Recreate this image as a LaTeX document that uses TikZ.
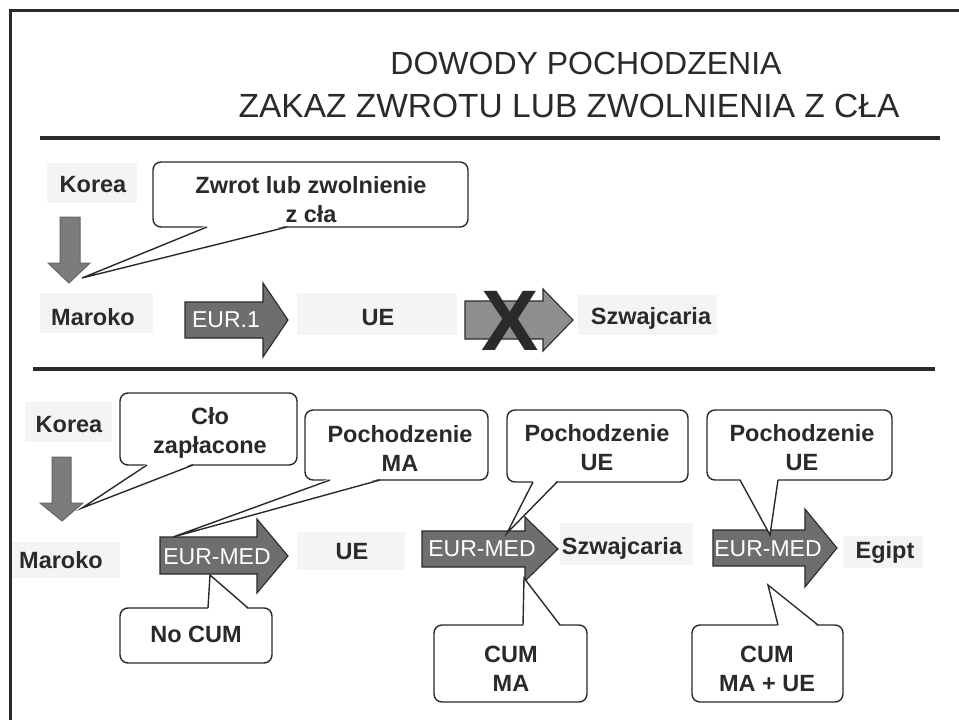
\documentclass[tikz,border=0pt]{standalone}
\usepackage{fontspec}
\setmainfont{Liberation Sans}
\usetikzlibrary{calc}
\definecolor{ink}{HTML}{2A2A2A}
\definecolor{eurfill}{HTML}{6E6E6E}
\definecolor{xfill}{HTML}{8E8E8E}
\definecolor{downfill}{HTML}{7C7C7C}
\definecolor{faintbg}{HTML}{F4F4F4}
\begin{document}
\begin{tikzpicture}[x=1pt,y=-1pt,
  lbl/.style={font=\fontsize{23.5}{29}\selectfont\bfseries, inner sep=0pt, align=center, text=ink},
  ttl/.style={inner sep=0pt, text=ink},
  arrtext/.style={font=\fontsize{23}{28}\selectfont, inner sep=0pt, text=white},
  faint/.style={fill=faintbg, draw=none},
  callbox/.style={draw=ink, line width=1.4pt, rounded corners=8pt, fill=white},
  cline/.style={draw=ink, line width=1.4pt, line join=miter},
  blockarrow/.style={draw=ink, line width=1.1pt, fill=eurfill, line join=miter},
  xarrow/.style={draw=ink, line width=1.1pt, fill=xfill, line join=miter},
  downarrow/.style={draw=black!60, line width=1pt, fill=downfill, line join=miter},
  rulebar/.style={draw=ink, line width=4pt}
]
\useasboundingbox (0,0) rectangle (959,720);
\fill[white] (0,0) rectangle (959,720);

% frame
\draw[ink, line width=3pt] (10,720) -- (10,10.5) -- (959,10.5);

% title
\node[ttl, font=\fontsize{32}{38}\selectfont] (t1) at (586,63) {DOWODY POCHODZENIA};
\node[ttl, font=\fontsize{33.5}{40}\selectfont] (t2) at (569,106) {ZAKAZ ZWROTU LUB ZWOLNIENIA Z CŁA};

% rules
\coordinate (r1a) at (40,138); \coordinate (r1b) at (940,138);
\coordinate (r2a) at (33,369); \coordinate (r2b) at (935,369);
\draw[rulebar] (r1a) -- (r1b);
\draw[rulebar] (r2a) -- (r2b);

% ---------- faint backgrounds ----------
\fill[faint] (47,163) rectangle (137,203);
\fill[faint] (40,293) rectangle (153,333);
\fill[faint] (297,293) rectangle (457,335);
\fill[faint] (578,295) rectangle (717,335);
\fill[faint] (25,402) rectangle (112,442);
\fill[faint] (12,542) rectangle (120,578);
\fill[faint] (297,532) rectangle (405,570);
\fill[faint] (560,523) rectangle (693,565);
\fill[faint] (843,536) rectangle (923,568);

% ---------- TOP SECTION ----------
\node[lbl] (korea1) at (93,185) {Korea};
\node[lbl] (maroko1) at (93,317) {Maroko};
\node[lbl] (ue1) at (378,318) {UE};
\node[lbl] (szw1) at (651,318) {Szwajcaria};

% down arrow Korea -> Maroko
\draw[downarrow] (60,217) -- (80,217) -- (80,263) -- (90,263) -- (69,283) -- (48,263) -- (60,263) -- cycle;

% EUR.1 arrow
\draw[blockarrow] (185,302) -- (263,302) -- (263,283) -- (288,320) -- (263,357) -- (263,338) -- (185,338) -- cycle;
\node[arrtext] (eur1) at (226,320) {EUR.1};

% crossed arrow
\draw[xarrow] (465,301) -- (543,301) -- (543,289) -- (573,320) -- (543,351) -- (543,339) -- (465,339) -- cycle;
\node[font=\fontsize{86}{90}\selectfont\bfseries, inner sep=0pt, text=ink] (xmark) at (510,321) {X};

% callout: Zwrot lub zwolnienie z cla
\node[callbox, minimum width=315pt, minimum height=65pt, inner sep=0pt] (c1) at (310.5,194.5) {};
\coordinate (c1a) at (207,227); \coordinate (c1b) at (287,227); \coordinate (c1tip) at (82,278);
\fill[white] ($(c1a)+(0,-1.6)$) -- (c1tip) -- ($(c1b)+(0,-1.6)$) -- cycle;
\draw[cline] (c1a) -- (c1tip) -- (c1b);
\node[lbl] (c1t) at (311,200) {Zwrot lub zwolnienie\\z cła};

% ---------- BOTTOM SECTION ----------
\node[lbl] (korea2) at (69,425) {Korea};
\node[lbl] (maroko2) at (61,560) {Maroko};
\node[lbl] (ue2) at (352,552) {UE};
\node[lbl] (szw2) at (622,548) {Szwajcaria};
\node[lbl] (egipt) at (885,552) {Egipt};

% down arrow
\draw[downarrow] (52,457) -- (71,457) -- (71,503) -- (83,503) -- (62,521) -- (40,503) -- (52,503) -- cycle;

% EUR-MED arrows
\draw[blockarrow] (160,537) -- (257,537) -- (257,519) -- (288,556) -- (257,593) -- (257,574) -- (160,574) -- cycle;
\node[arrtext] (em1) at (217,557) {EUR-MED};
\draw[blockarrow] (422,531) -- (525,531) -- (525,517) -- (558,549) -- (525,581) -- (525,567) -- (422,567) -- cycle;
\node[arrtext] (em2) at (482,549) {EUR-MED};
\draw[blockarrow] (713,530) -- (805,530) -- (805,509) -- (837,548) -- (805,587) -- (805,566) -- (713,566) -- cycle;
\node[arrtext] (em3) at (768,549) {EUR-MED};

% callout: Clo zaplacone
\node[callbox, minimum width=177pt, minimum height=72pt, inner sep=0pt] (c2) at (208.5,429) {};
\coordinate (c2a) at (147,465); \coordinate (c2b) at (193,465); \coordinate (c2tip) at (82,508);
\fill[white] ($(c2a)+(0,-1.6)$) -- (c2tip) -- ($(c2b)+(0,-1.6)$) -- cycle;
\draw[cline] (c2a) -- (c2tip) -- (c2b);
\node[lbl] (c2t) at (210,432.5) {Cło\\zapłacone};

% callout: Pochodzenie MA
\node[callbox, minimum width=183pt, minimum height=70pt, inner sep=0pt] (c3) at (396.5,445) {};
\coordinate (c3a) at (330,480); \coordinate (c3b) at (380,480); \coordinate (c3tip) at (173,537);
\fill[white] ($(c3a)+(0,-1.6)$) -- (c3tip) -- ($(c3b)+(0,-1.6)$) -- cycle;
\draw[cline] (c3a) -- (c3tip) -- (c3b);
\node[lbl] (c3t) at (400,448) {Pochodzenie\\MA};

% callout: No CUM
\node[callbox, minimum width=152pt, minimum height=55pt, inner sep=0pt] (c4) at (196,635.5) {};
\coordinate (c4a) at (208,608); \coordinate (c4b) at (248,608); \coordinate (c4tip) at (210,575);
\fill[white] ($(c4a)+(0,1.6)$) -- (c4tip) -- ($(c4b)+(0,1.6)$) -- cycle;
\draw[cline] (c4a) -- (c4tip) -- (c4b);
\node[lbl] (c4t) at (196,634) {No CUM};

% callout: Pochodzenie UE (2)
\node[callbox, minimum width=181pt, minimum height=72pt, inner sep=0pt] (c5) at (597.5,446) {};
\coordinate (c5a) at (533,482); \coordinate (c5b) at (557,482); \coordinate (c5tip) at (507,533);
\fill[white] ($(c5a)+(0,-1.6)$) -- (c5tip) -- ($(c5b)+(0,-1.6)$) -- cycle;
\draw[cline] (c5a) -- (c5tip) -- (c5b);
\node[lbl] (c5t) at (597,447.5) {Pochodzenie\\UE};

% callout: CUM MA
\node[callbox, minimum width=153pt, minimum height=77pt, inner sep=0pt] (c6) at (510.5,663.5) {};
\coordinate (c6a) at (523,625); \coordinate (c6b) at (560,625); \coordinate (c6tip) at (524,578);
\fill[white] ($(c6a)+(0,1.6)$) -- (c6tip) -- ($(c6b)+(0,1.6)$) -- cycle;
\draw[cline] (c6a) -- (c6tip) -- (c6b);
\node[lbl] (c6t) at (511,669) {CUM\\MA};

% callout: Pochodzenie UE (3)
\node[callbox, minimum width=185pt, minimum height=70pt, inner sep=0pt] (c7) at (799.5,445) {};
\coordinate (c7a) at (740,480); \coordinate (c7b) at (778,480); \coordinate (c7tip) at (770,535);
\fill[white] ($(c7a)+(0,-1.6)$) -- (c7tip) -- ($(c7b)+(0,-1.6)$) -- cycle;
\draw[cline] (c7a) -- (c7tip) -- (c7b);
\node[lbl] (c7t) at (802,447.5) {Pochodzenie\\UE};

% callout: CUM MA + UE
\node[callbox, minimum width=151pt, minimum height=77pt, inner sep=0pt] (c8) at (767.5,663.5) {};
\coordinate (c8a) at (778,625); \coordinate (c8b) at (818,625); \coordinate (c8tip) at (768,585);
\fill[white] ($(c8a)+(0,1.6)$) -- (c8tip) -- ($(c8b)+(0,1.6)$) -- cycle;
\draw[cline] (c8a) -- (c8tip) -- (c8b);
\node[lbl] (c8t) at (767,669) {CUM\\MA + UE};

\end{tikzpicture}
\end{document}
